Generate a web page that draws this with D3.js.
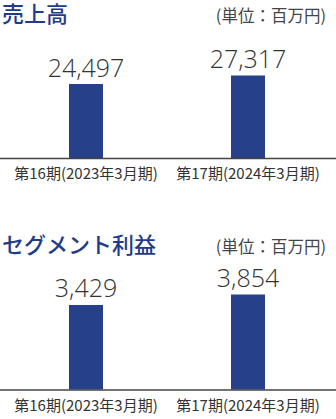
<!DOCTYPE html>
<html><head><meta charset="utf-8">
<script src="https://cdn.jsdelivr.net/npm/d3@7"></script>
<style>
html,body{margin:0;padding:0;background:#fff;}
svg{display:block;}
</style></head>
<body>
<svg id="c" width="336" height="419"></svg>
<script>
const categories = ["第16期(2023年3月期)", "第17期(2024年3月期)"];
const salesValues = [24497, 27317];
const segmentValues = [3429, 3854];
const titles = ["売上高", "セグメント利益"];
const unitLabel = "(単位：百万円)";

const svg = d3.select("#c");
const navy = "#26408a";
const cjk = "'Noto Sans CJK JP','Noto Sans',sans-serif";
const num = "'Open Sans','Noto Sans',sans-serif";

const x = d3.scaleBand().domain(categories).range([5, 329]);
const barW = 34;

function panel(title, values, top, baseline, maxV, maxPx) {
  const g = svg.append("g");
  const y = d3.scaleLinear().domain([0, maxV]).range([baseline, baseline - maxPx]);

  g.append("text").attr("x", 2).attr("y", top + 22)
    .attr("font-family", cjk).attr("font-weight", 500).attr("font-size", 22)
    .attr("fill", "#1f3b8a").text(title);
  g.append("text").attr("x", 326).attr("y", top + 22).attr("text-anchor", "end")
    .attr("font-family", cjk).attr("font-size", 16.5)
    .attr("fill", "#444").text(unitLabel);

  g.selectAll("rect").data(values).join("rect")
    .attr("x", (d, i) => x(categories[i]) + x.bandwidth() / 2 - barW / 2)
    .attr("width", barW)
    .attr("y", d => y(d))
    .attr("height", d => baseline - y(d))
    .attr("fill", navy);

  g.selectAll("text.val").data(values).join("text").attr("class", "val")
    .attr("x", (d, i) => x(categories[i]) + x.bandwidth() / 2)
    .attr("y", d => y(d) - 7.5)
    .attr("text-anchor", "middle")
    .attr("font-family", num).attr("font-weight", 300).attr("font-size", 25)
    .attr("fill", "#333").text(d => d3.format(",")(d));

  g.append("line").attr("x1", 0).attr("x2", 336)
    .attr("y1", baseline + 0.5).attr("y2", baseline + 0.5)
    .attr("stroke", "#444").attr("stroke-width", 1.5);

  g.selectAll("text.cat").data(categories).join("text").attr("class", "cat")
    .attr("x", d => x(d) + x.bandwidth() / 2)
    .attr("y", baseline + 21)
    .attr("text-anchor", "middle")
    .attr("font-family", cjk).attr("font-size", 15)
    .attr("fill", "#333").text(d => d);
}

panel(titles[0], salesValues, 0, 158, 30000, 90.6);
panel(titles[1], segmentValues, 231, 389.5, 4000, 98.6);
</script>
</body></html>
